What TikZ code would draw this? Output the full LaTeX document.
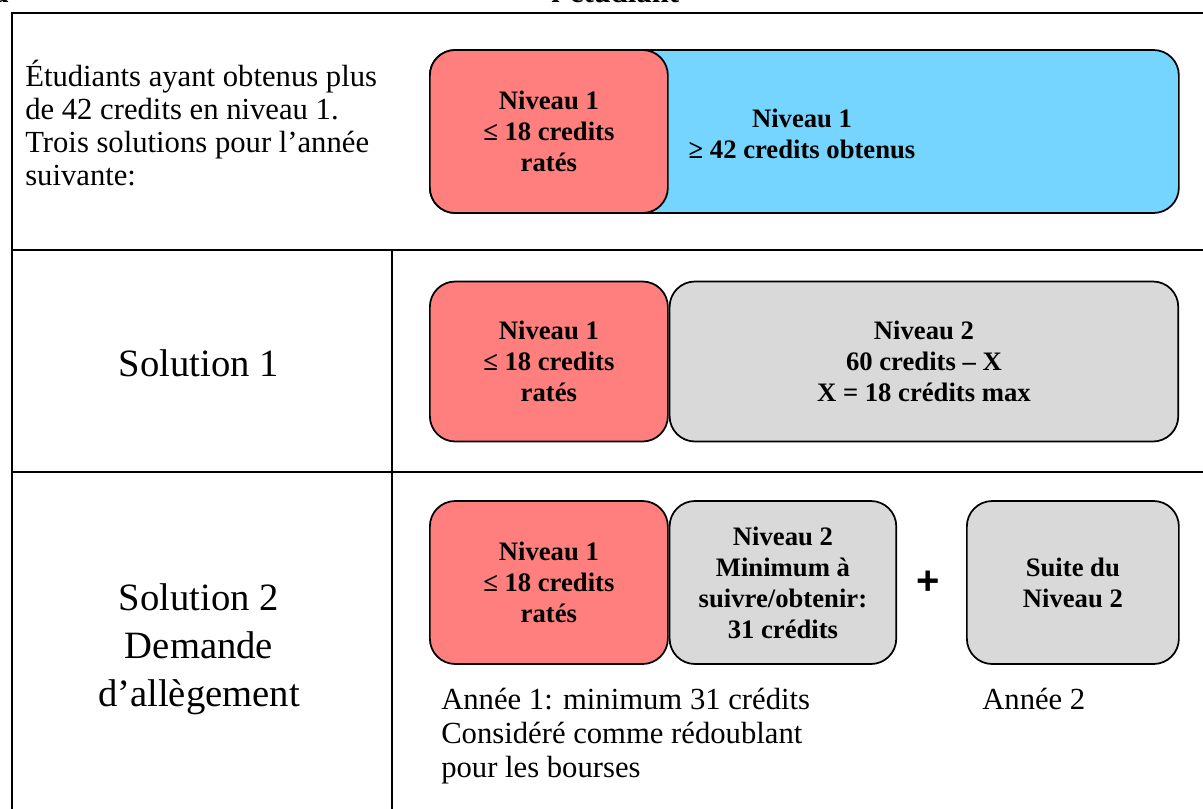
\documentclass[tikz,border=0pt]{standalone}
\usepackage{fontspec}
\setmainfont{Liberation Serif}
\newfontfamily\plusfont{Liberation Sans}
\usepackage{xcolor}
\usepackage{tikz}
\usetikzlibrary{positioning}
\definecolor{niveaured}{RGB}{255,127,127}
\definecolor{niveaublue}{RGB}{117,213,255}
\definecolor{niveaugrey}{RGB}{217,217,217}
\tikzstyle{niveau} = [rectangle, rounded corners=19pt, minimum height=122.25pt, inner sep=0pt, text centered, align=center, draw=black, line width=1.3pt, font=\fontsize{20}{23.2}\selectfont\bfseries]
\tikzstyle{rate} = [niveau, fill=niveaured, minimum width=178.5pt]
\tikzstyle{cadre} = [line width=1.6pt, draw=black]
\tikzstyle{plain} = [inner sep=0pt, font=\fontsize{23}{24.75}\selectfont]
\tikzstyle{solution} = [inner sep=0pt, align=center, font=\fontsize{29}{36}\selectfont]

\begin{document}
\begin{tikzpicture}[x=0.75pt, y=-0.75pt]
\useasboundingbox (0,0) rectangle (1203,808);
\clip (0,0) rectangle (1203,808);

\draw [cadre] (12,820) -- (12,13) -- (1215,13);
\draw [cadre] (12,250) -- (1215,250);
\draw [cadre] (12,472) -- (1215,472);
\draw [cadre] (392,250) -- (392,820);

\node (coin) [plain, font=\fontsize{23}{24}\selectfont\bfseries, anchor=base east] at (9,2) {a};
\node (titre) [plain, font=\fontsize{23}{24}\selectfont\bfseries, anchor=base west] at (551,2) {l’étudiant};

\node (intro) [plain, align=left, anchor=base west] at (25,185) {Étudiants ayant obtenus plus\\de 42 credits en niveau 1.\\Trois solutions pour l’année\\suivante:};

\node (blue) [niveau, fill=niveaublue, minimum width=561.75pt, anchor=west] at (429,131.5) {};
\node (rate1) [rate, anchor=west] at (429,131.5) {Niveau 1\\≤ 18 credits\\ratés};
\node (obtenus) [inner sep=0pt, align=center, font=\fontsize{20}{23.2}\selectfont\bfseries] at (802,134) {Niveau 1\\≥ 42 credits obtenus};

\node (sol1) [solution] at (199,363) {Solution 1};
\node (rate2) [rate, minimum height=120pt, anchor=west] at (429,361.5) {Niveau 1\\≤ 18 credits\\ratés};
\node (niv2a) [niveau, fill=niveaugrey, minimum height=120pt, minimum width=381.5pt, right=0pt of rate2] {Niveau 2\\60 credits – X\\X = 18 crédits max};

\node (sol2) [solution] at (199,649) {Solution 2\\Demande\\d’allègement};
\node (rate3) [rate, anchor=west] at (429,582.5) {Niveau 1\\≤ 18 credits\\ratés};
\node (niv2b) [niveau, fill=niveaugrey, minimum width=170pt, right=0pt of rate3] {Niveau 2\\Minimum à\\suivre/obtenir:\\31 crédits};
\node (plus) [inner sep=0pt, font=\plusfont\bfseries\fontsize{30}{30}\selectfont] at (928,583) {+};
\node (suite) [niveau, fill=niveaugrey, minimum width=159pt, anchor=west] at (966,582.5) {Suite du\\Niveau 2};

\node (annee1) [plain, font=\fontsize{23}{25.5}\selectfont, align=left, anchor=base west] at (441,777) {Année 1: minimum 31 crédits\\Considéré comme rédoublant\\pour les bourses};
\node (annee2) [plain, anchor=base west] at (982,709) {Année 2};

\end{tikzpicture}
\end{document}
